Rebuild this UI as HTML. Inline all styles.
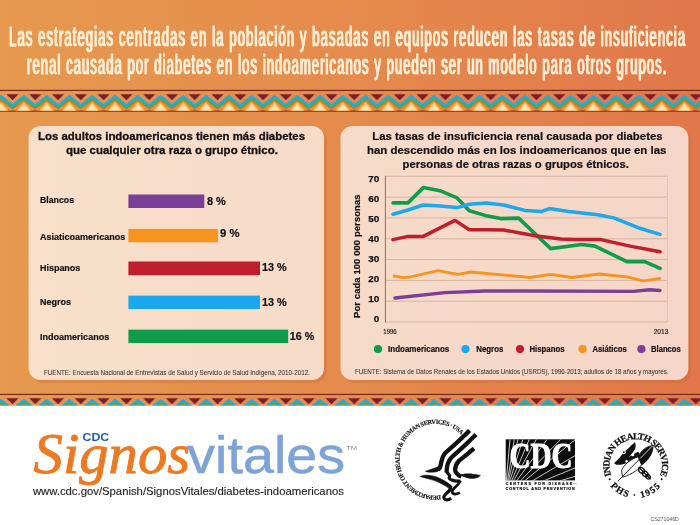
<!DOCTYPE html>
<html lang="es">
<head>
<meta charset="utf-8">
<title>Signos Vitales - diabetes indoamericanos</title>
<style>
html,body{margin:0;padding:0;background:#fff;}
body{width:700px;height:525px;overflow:hidden;font-family:"Liberation Sans",sans-serif;}
svg{display:block;will-change:transform;}
text{font-family:"Liberation Sans",sans-serif;}
.b{font-weight:bold;}
.serif{font-family:"Liberation Serif",serif;}
</style>
</head>
<body>
<svg width="700" height="525" viewBox="0 0 700 525">
<defs>
  <linearGradient id="bg" gradientUnits="userSpaceOnUse" x1="0" y1="0" x2="700" y2="0">
    <stop offset="0" stop-color="#E6994F"/>
    <stop offset="0.5" stop-color="#E58B4D"/>
    <stop offset="1" stop-color="#E1774A"/>
  </linearGradient>
  <linearGradient id="pn" gradientUnits="userSpaceOnUse" x1="0" y1="0" x2="700" y2="0">
    <stop offset="0" stop-color="#F8E0CA"/>
    <stop offset="0.5" stop-color="#F7DBC9"/>
    <stop offset="1" stop-color="#F5D5C7"/>
  </linearGradient>
  <!-- zigzag border tile: period 22.78, height 24 (y 0 == page y 89) -->
  <pattern id="zz" patternUnits="userSpaceOnUse" x="1.1" y="89" width="22.78" height="320">
    <rect x="0" y="0.8" width="22.78" height="1.2" fill="#7A2A18"/>
    <rect x="0" y="21.5" width="22.78" height="1.2" fill="#7A2A18"/>
    <polygon points="5.3,5.3 17.5,5.3 11.4,11.2" fill="#7B1D2B"/>
    <polygon points="-9.60,21.4 0.00,10.8 9.60,21.4" fill="#F58A1F"/><polygon points="13.18,21.4 22.78,10.8 32.38,21.4" fill="#F58A1F"/>
    <polygon points="-7.40,21.4 0.00,13.0 7.40,21.4" fill="#F9C060"/><polygon points="15.38,21.4 22.78,13.0 30.18,21.4" fill="#F9C060"/>
    <polygon points="-5.40,21.4 0.00,15.0 5.40,21.4" fill="#FBE6BA"/><polygon points="17.38,21.4 22.78,15.0 28.18,21.4" fill="#FBE6BA"/>
    <polyline points="-11.39,17.2 0,8.2 11.39,17.2 22.78,8.2 34.17,17.2" fill="none" stroke="#F15A29" stroke-width="1.2" transform="translate(0,2.9)"/>
    <polyline points="-11.39,17.2 0,8.2 11.39,17.2 22.78,8.2 34.17,17.2" fill="none" stroke="#3BB54A" stroke-width="2.2" transform="translate(0,1.2)"/>
    <polyline points="-11.39,17.2 0,8.2 11.39,17.2 22.78,8.2 34.17,17.2" fill="none" stroke="#1FA9E5" stroke-width="2.3" transform="translate(0,-0.9)"/>
  </pattern>
</defs>

<!-- background -->
<rect x="0" y="0" width="700" height="525" fill="#ffffff"/>
<rect x="0" y="0" width="700" height="405.6" fill="url(#bg)"/>

<!-- borders -->
<g id="border-top">
  <rect x="0" y="89" width="700" height="24" fill="url(#zz)"/>
</g>
<g id="border-bottom" transform="translate(0,304)">
  <rect x="0" y="89" width="700" height="12.6" fill="url(#zz)"/>
</g>

<!-- panels -->
<g id="panels">
  <rect x="31.4" y="128.9" width="295.5" height="254.2" rx="12" ry="12" fill="#C8602A" opacity="0.28"/>
  <rect x="343.2" y="128.9" width="348" height="254.2" rx="12" ry="12" fill="#C8602A" opacity="0.28"/>
  <rect x="28.6" y="125.9" width="295.4" height="254.2" rx="12" ry="12" fill="url(#pn)"/>
  <rect x="340.5" y="125.9" width="347.9" height="254.2" rx="12" ry="12" fill="url(#pn)"/>
</g>

<!-- BARS -->
<g id="bars">
  <rect x="128.4" y="194.5" width="75.9" height="13.5" fill="#7B3F98"/>
  <rect x="128.4" y="228.9" width="89.5" height="13.4" fill="#F7941E"/>
  <rect x="128.4" y="261.5" width="131.6" height="13.7" fill="#BE1E2D"/>
  <rect x="128.4" y="295.6" width="131.6" height="13.4" fill="#1CA8EE"/>
  <rect x="128.4" y="329.6" width="159.8" height="13.5" fill="#0F9D4B"/>
</g>

<!-- HEADER -->
<g transform="scale(0.47,1)">
<g id="hdr" fill="#FEEDD3" stroke="#FEEDD3" stroke-width="0.3" font-size="27.6">
  <text x="19.36" y="46.1" textLength="1438.3" lengthAdjust="spacing">Las estrategias centradas en la población y basadas en equipos reducen las tasas de insuficiencia</text>
  <text x="57.66" y="73.7" textLength="1360.0" lengthAdjust="spacing">renal causada por diabetes en los indoamericanos y pueden ser un modelo para otros grupos.</text>
</g>
<use href="#hdr" x="-0.96"/>
<use href="#hdr" x="0.96"/>
</g>

<!-- LEFT PANEL TEXT -->
<g id="left-title" font-size="11.5" font-weight="bold" fill="#141011" stroke="#141011" stroke-width="0.3">
  <text x="38" y="139.7" textLength="267" lengthAdjust="spacingAndGlyphs">Los adultos indoamericanos tienen más diabetes</text>
  <text x="65.9" y="154" textLength="212" lengthAdjust="spacingAndGlyphs">que cualquier otra raza o grupo étnico.</text>
</g>
<g id="bar-labels" font-size="9.3" font-weight="bold" fill="#141011" stroke="#141011" stroke-width="0.2">
  <text x="40" y="202.6" textLength="34" lengthAdjust="spacingAndGlyphs">Blancos</text>
  <text x="40" y="240" textLength="85.2" lengthAdjust="spacingAndGlyphs">Asiaticoamericanos</text>
  <text x="40" y="271.1" textLength="40.3" lengthAdjust="spacingAndGlyphs">Hispanos</text>
  <text x="40" y="305" textLength="30.9" lengthAdjust="spacingAndGlyphs">Negros</text>
  <text x="40" y="340.2" textLength="69.2" lengthAdjust="spacingAndGlyphs">Indoamericanos</text>
</g>
<g id="bar-values" font-size="10.7" font-weight="bold" fill="#141011" stroke="#141011" stroke-width="0.2">
  <text x="206.9" y="204.5" textLength="18.9" lengthAdjust="spacingAndGlyphs">8 %</text>
  <text x="220.1" y="237.4" textLength="19.5" lengthAdjust="spacingAndGlyphs">9 %</text>
  <text x="261.9" y="271.3" textLength="24.8" lengthAdjust="spacingAndGlyphs">13 %</text>
  <text x="261.9" y="305.9" textLength="24.8" lengthAdjust="spacingAndGlyphs">13 %</text>
  <text x="289.8" y="339.5" textLength="24.5" lengthAdjust="spacingAndGlyphs">16 %</text>
</g>
<g id="sources" font-size="8.1" fill="#46372f" stroke="#46372f" stroke-width="0.08">
  <text x="43.9" y="375.2" textLength="266" lengthAdjust="spacingAndGlyphs">FUENTE: Encuesta Nacional de Entrevistas de Salud y Servicio de Salud Indígena, 2010-2012.</text>
  <text x="354.9" y="374.1" textLength="313.7" lengthAdjust="spacingAndGlyphs">FUENTE: Sistema de Datos Renales de los Estados Unidos (USRDS), 1996-2013; adultos de 18 años y mayores.</text>
</g>

<!-- RIGHT PANEL TEXT -->
<g id="right-title" font-size="10.9" font-weight="bold" fill="#141011" stroke="#141011" stroke-width="0.2">
  <text x="372.3" y="139.8" textLength="290.3" lengthAdjust="spacingAndGlyphs">Las tasas de insuficiencia renal causada por diabetes</text>
  <text x="367" y="153.7" textLength="299.4" lengthAdjust="spacingAndGlyphs">han descendido más en los indoamericanos que en las</text>
  <text x="402.5" y="167.6" textLength="226.4" lengthAdjust="spacingAndGlyphs">personas de otras razas o grupos étnicos.</text>
</g>
<g id="ylabels" font-size="9.9" font-weight="bold" fill="#141011" stroke="#141011" stroke-width="0.25" text-anchor="end" transform="translate(0.1,0.2)">
  <text x="379.2" y="181.7">70</text>
  <text x="379.2" y="201.7">60</text>
  <text x="379.2" y="221.7">50</text>
  <text x="379.2" y="241.7">40</text>
  <text x="379.2" y="261.7">30</text>
  <text x="379.2" y="281.8">20</text>
  <text x="379.2" y="301.8">10</text>
  <text x="379.2" y="321.8">0</text>
</g>
<text id="ytitle" transform="translate(360.3,317.9) rotate(-90)" font-size="9.4" font-weight="bold" fill="#141011" stroke="#141011" stroke-width="0.2" textLength="123.4" lengthAdjust="spacing">Por cada 100 000 personas</text>
<g id="xlabels" font-size="7.8" fill="#15100e" stroke="#15100e" stroke-width="0.15">
  <text x="383.3" y="333.7" textLength="13.4" lengthAdjust="spacingAndGlyphs">1996</text>
  <text x="653.7" y="333.7" textLength="14.6" lengthAdjust="spacingAndGlyphs">2013</text>
</g>
<g id="legend" font-size="8.5" font-weight="bold" fill="#141011" stroke="#141011" stroke-width="0.2">
  <circle stroke="none" cx="378" cy="349.1" r="4.1" fill="#0F9D4B"/>
  <text x="388.1" y="351.9" textLength="61.2" lengthAdjust="spacingAndGlyphs">Indoamericanos</text>
  <circle stroke="none" cx="465.5" cy="349.1" r="4.1" fill="#1CA8EE"/>
  <text x="476.3" y="351.9" textLength="27" lengthAdjust="spacingAndGlyphs">Negros</text>
  <circle stroke="none" cx="520" cy="349.1" r="4.1" fill="#BE1E2D"/>
  <text x="529.5" y="351.9" textLength="35" lengthAdjust="spacingAndGlyphs">Hispanos</text>
  <circle stroke="none" cx="582.5" cy="349.1" r="4.1" fill="#F7941E"/>
  <text x="592.5" y="351.9" textLength="34.2" lengthAdjust="spacingAndGlyphs">Asiáticos</text>
  <circle stroke="none" cx="641.4" cy="349.1" r="4.1" fill="#7B3F98"/>
  <text x="651.1" y="351.9" textLength="29.6" lengthAdjust="spacingAndGlyphs">Blancos</text>
</g>

<!-- SIGNOS VITALES LOGO -->
<g id="sv">
  <text x="82.5" y="441.1" font-size="10.7" font-weight="bold" fill="#1F5DA8" textLength="26.7" lengthAdjust="spacingAndGlyphs">CDC</text>
  <text x="33.6" y="472.7" class="serif" font-family="Liberation Serif" font-style="italic" font-size="57.5" fill="#EC7A23" stroke="#EC7A23" stroke-width="0.9" textLength="156.5" lengthAdjust="spacingAndGlyphs">Signos</text>
  <text x="187.2" y="472.7" font-size="51.5" fill="#7EA3D6" stroke="#7EA3D6" stroke-width="0.5" textLength="158" lengthAdjust="spacingAndGlyphs">vitales</text>
  <text x="346" y="450.3" font-size="5.4" fill="#8a8a8a" textLength="11" lengthAdjust="spacingAndGlyphs">TM</text>
  <text x="32.9" y="495" font-size="10.8" fill="#262626" stroke="#262626" stroke-width="0.15" textLength="311" lengthAdjust="spacingAndGlyphs">www.cdc.gov/Spanish/SignosVitales/diabetes-indoamericanos</text>
  <text x="650.5" y="521.4" font-size="4.8" fill="#555" textLength="28.3" lengthAdjust="spacingAndGlyphs">CS271046D</text>
</g>

<!-- LINE CHART -->
<g id="grid" stroke="#D9B3A0" stroke-width="1" fill="none"><line x1="385.4" y1="176.3" x2="667.5" y2="176.3"/><line x1="385.4" y1="197.1" x2="667.5" y2="197.1"/><line x1="385.4" y1="217.9" x2="667.5" y2="217.9"/><line x1="385.4" y1="238.8" x2="667.5" y2="238.8"/><line x1="385.4" y1="259.6" x2="667.5" y2="259.6"/><line x1="385.4" y1="280.4" x2="667.5" y2="280.4"/><line x1="385.4" y1="301.2" x2="667.5" y2="301.2"/><line x1="385.4" y1="322" x2="667.5" y2="322"/>
  <line x1="667.4" y1="176.3" x2="667.4" y2="322" stroke="#E9BFA8" stroke-width="0.8"/>
  <line x1="385.4" y1="175.8" x2="385.4" y2="322.5" stroke="#8A6E5C" stroke-width="1"/>
</g>
<g id="lines" fill="none" stroke-linecap="round" stroke-linejoin="round">
  <polyline points="395,298 445,292.6 485,291 525,291 633.3,291.4 649.5,289.8 660,290.5" stroke="#7B3F98" stroke-width="3.4"/>
  <polyline points="394,276 403,277.6 410,277 438,270.6 458,274.4 471,272 525,277 529.7,277.5 550.8,274.3 571.8,277.5 599.3,274 626.9,276.9 643,280.8 660,278.4" stroke="#F7941E" stroke-width="2.8"/>
  <polyline points="393,202.9 407.9,202.9 423.3,187.6 440,190.7 457.1,197.9 469.3,210.7 485,215.4 500.7,218.6 518.6,218.1 550.7,248.6 581.5,244.5 595,246.1 626.9,261.6 644.7,261.6 660,268.4" stroke="#0F9D4B" stroke-width="3.6"/>
  <polyline points="393,239.6 407.9,236.4 423.3,236.4 455,220.4 469.3,229.7 485,229.7 503.6,230 535,235.7 560.7,239 575,239.6 601,239.6 630,246.1 660,251.8" stroke="#BE1E2D" stroke-width="3.5"/>
  <polyline points="393,214.3 407.9,210 423.3,205 440,206.1 457.1,207.6 469.3,204.3 486.4,202.9 503.6,205 525,210.4 542.1,211.4 549.3,208.6 568.6,211.5 597.7,214.7 613.9,217.9 639.8,228.3 660,234.4" stroke="#1CA8EE" stroke-width="3.5"/>
</g>

<!-- LOGOS -->
<defs>
  <path id="hhsArc" d="M440.71,495.21 A35.9,35.9 0 0 1 401.67,447.42 A35.9,35.9 0 0 1 465.68,440.41"/>
  <path id="ihsTop" d="M611.32,475.35 A26.3,26.3 0 0 1 635.70,439.20 A26.3,26.3 0 0 1 660.08,475.35"/>
  <path id="ihsBot" d="M610.37,486.02 A32.6,32.6 0 0 0 660.30,486.89"/>
  <clipPath id="cdcClip"><rect x="505.7" y="439.3" width="69.3" height="41.1"/></clipPath>
</defs>
<g id="hhs" fill="#111">
  <text font-family="Liberation Serif" class="serif" font-weight="bold" font-size="6.3" stroke="#111" stroke-width="0.15" textLength="146.6" lengthAdjust="spacing"><textPath href="#hhsArc" textLength="146.6" lengthAdjust="spacing">DEPARTMENT OF HEALTH &amp; HUMAN SERVICES · USA</textPath></text>
  <g fill="none" stroke="#111" stroke-linecap="butt" stroke-linejoin="round">
    <!-- stripe A + upper wing -->
    <path d="M469.6,430.4 C462,438 452,447 445.6,452.6 C442.6,455.4 441.6,460 440.8,464.5 C440.4,467 439.6,468.6 438.2,469.4" stroke-width="4.3"/>
    <path d="M441,467.2 L438,471.4 C434,472.4 429.6,472.6 425.4,471.4 C429.4,469.6 434,468.8 439.6,466 Z" fill="#111" stroke-width="0.6"/>
    <!-- stripe B + face -->
    <path d="M476,434.6 C468,442.6 459,451 453.4,455.6 C449.4,459 447.8,462.6 447.2,466 C446.8,468.4 446.6,470.4 446.6,472.6" stroke-width="4.3"/>
    <path d="M446.6,471.6 C447.4,474 450.4,474.6 449.6,476.4 C448.6,478.2 449.6,479.2 451.8,480 C454.6,481.2 457.6,481.4 460.4,481" stroke-width="3.2"/>
    <!-- stripe C + face + tail -->
    <path d="M474,448.4 C469,453 463.4,457.4 459.4,460.4 C456.6,463 455.4,466 455.1,469.3 C455,471.4 456.4,473.2 457.8,474.4 C458.8,475.4 460,476.2 461.4,476.6" stroke-width="4.2"/>
    <path d="M460,475 C464,473.8 469,473.6 473,474.2 C476,474.6 478.4,475 480.4,475.4 C478.6,477.2 475.4,478.6 471.6,478.4 C468,478.2 465.4,477 463.4,476.4 Z" fill="#111" stroke-width="0.6"/>
    <!-- lower wing / body / claw 1 -->
    <path d="M420.2,476.6 C424,474.6 430,474.8 436,476.8 C441.6,478.8 447,482 451.4,485.6 L449.6,488.6 C445,485.6 440,482.6 434.6,480.6 C429.6,478.8 424.6,478.2 420.2,476.6 Z" fill="#111" stroke-width="0.6"/>
    <path d="M450.8,486 C451,489 449,491.4 446.4,493.4 C444,495.4 443.2,497.2 444.4,498.8 C445.8,500.4 448.6,500 451.2,498.4" stroke-width="3.2"/>
    <!-- leg 2 / claw 2 -->
    <path d="M460.4,480.6 C459.4,483.6 457,485.6 454.6,487.8 C452.4,489.8 451.6,491.6 452.6,493 C454,494.6 457,494.2 459.8,492.6" stroke-width="2.8"/>
  </g>
</g>
<g id="cdc">
  <rect x="505.7" y="439.3" width="69.3" height="41.1" fill="#0d0d0d"/>
  <g clip-path="url(#cdcClip)" stroke="#fff" stroke-width="0.75" fill="none"><line x1="504.8" y1="497" x2="510" y2="439.3"/><line x1="504.8" y1="497" x2="514.3" y2="439.3"/><line x1="504.8" y1="497" x2="517.9" y2="439.3"/><line x1="504.8" y1="497" x2="522.9" y2="439.3"/><line x1="504.8" y1="497" x2="529.3" y2="439.3"/><line x1="504.8" y1="497" x2="536.4" y2="439.3"/><line x1="504.8" y1="497" x2="547.1" y2="439.3"/><line x1="504.8" y1="497" x2="560.7" y2="439.3"/><line x1="504.8" y1="497" x2="575" y2="439.8"/><line x1="504.8" y1="497" x2="575" y2="455.7"/><line x1="504.8" y1="497" x2="575" y2="467.9"/><line x1="504.8" y1="497" x2="575" y2="476.4"/></g>
  <text x="509.4" y="468" font-family="Liberation Serif" class="serif" font-weight="bold" font-size="35.5" fill="#fff" stroke="#fff" stroke-width="0.9" textLength="63" lengthAdjust="spacingAndGlyphs">CDC</text>
  <text x="505.7" y="485.1" font-size="3.7" font-weight="bold" fill="#111" stroke="#111" stroke-width="0.2" textLength="66.5" lengthAdjust="spacing">CENTERS FOR DISEASE</text>
  <text x="505.7" y="490" font-size="3.7" font-weight="bold" fill="#111" stroke="#111" stroke-width="0.2" textLength="69" lengthAdjust="spacing">CONTROL AND PREVENTION</text>
  <text x="573" y="483.6" font-size="2.4" fill="#111">TM</text>
</g>
<g id="ihs" fill="#111">
  <text font-family="Liberation Serif" class="serif" font-weight="bold" font-size="9.3" stroke="#111" stroke-width="0.25" textLength="102.8" lengthAdjust="spacing"><textPath href="#ihsTop" textLength="102.8" lengthAdjust="spacing">INDIAN HEALTH SERVICE</textPath></text>
  <text font-family="Liberation Serif" class="serif" font-weight="bold" font-size="9.3" stroke="#111" stroke-width="0.25" textLength="56.9" lengthAdjust="spacing"><textPath href="#ihsBot" textLength="56.9" lengthAdjust="spacing">PHS · 1955</textPath></text>
  <circle cx="609.7" cy="479.3" r="1"/><circle cx="661.7" cy="479.3" r="1"/>
  <!-- winged figure -->
  <path d="M614.2,462.9 C617,461 622,454.4 626.4,450 C629.6,447 632.4,444.4 634.8,442.2 C636,444.6 636,447.4 634.6,450 C633,453 630.6,455 628.6,457.4 C631.6,455.6 635.4,452.6 638.2,451.8 C639.6,453.4 640.2,455.6 639.6,457.4 C637,460 634.4,462 631.6,463.8 C629.4,464.6 627,464.4 625.2,463.6 C623,464.6 620,465 617.6,464.8 C616,464.6 614.8,464 614.2,462.9 Z"/>
  <circle cx="623.8" cy="452.2" r="2" fill="#fff"/><circle cx="623.8" cy="452.2" r="0.9"/>
  <circle cx="632.8" cy="454.8" r="1.5" fill="#fff"/>
  <circle cx="626.6" cy="461.4" r="1.3" fill="#fff"/>
  <!-- feather -->
  <path d="M621.6,470.4 C624,464.6 630,459.4 638.6,456.6 L641.6,464.2 C639.4,469 633,474 622.6,477.2 Z" fill="#fff" stroke="#111" stroke-width="0.9" stroke-linejoin="round"/>
  <path d="M638,457 C641,450.6 646,446.4 653,445.4 C653.6,451 650,459 641.8,465 Z" fill="#111" stroke="#111" stroke-width="0.8" stroke-linejoin="round"/>
  <line x1="617.8" y1="481.2" x2="640" y2="458.6" stroke="#111" stroke-width="0.9"/>
  <line x1="640" y1="458.6" x2="652.6" y2="445.8" stroke="#fff" stroke-width="0.8"/>
  <!-- caduceus rings -->
  <g fill="none" stroke="#111" stroke-width="1.3">
    <ellipse cx="641.6" cy="470.4" rx="3.2" ry="2.5" transform="rotate(40 641.6 470.4)"/>
    <ellipse cx="645.2" cy="473.8" rx="3.2" ry="2.5" transform="rotate(40 645.2 473.8)"/>
    <ellipse cx="648" cy="476.8" rx="2.5" ry="2" transform="rotate(40 648 476.8)"/>
    <line x1="638.6" y1="467" x2="650.6" y2="479.2"/>
  </g>
</g>
</g>

</svg>
</body>
</html>
